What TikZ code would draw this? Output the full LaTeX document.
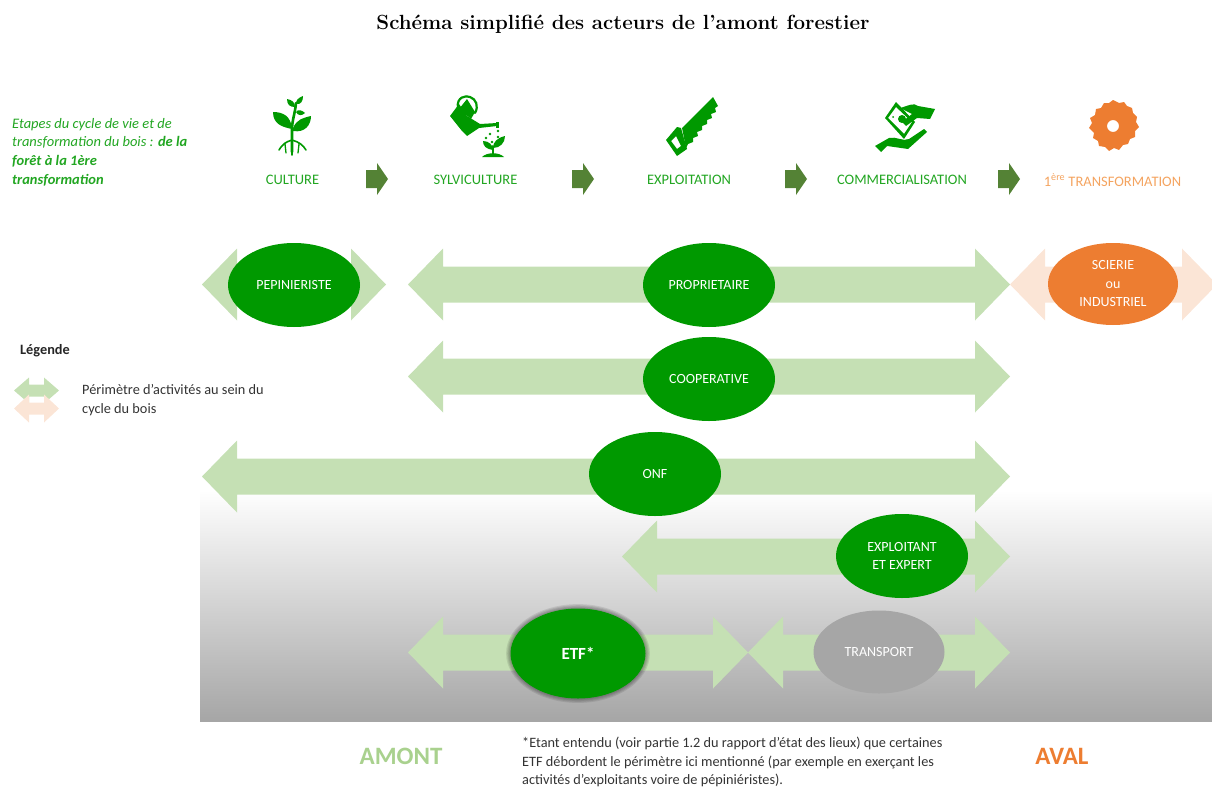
\documentclass[tikz,border=0pt]{standalone}
\usepackage{fontspec}
\setmainfont{Carlito}
\newfontfamily\titlefont{Latin Modern Roman}
\usetikzlibrary{calc}
\definecolor{gr}{HTML}{009900}
\definecolor{lgr}{HTML}{C5E0B4}
\definecolor{peach}{HTML}{FBE5D6}
\definecolor{org}{HTML}{ED7D31}
\definecolor{lorg}{HTML}{F4A460}
\definecolor{dgr}{HTML}{548235}
\definecolor{amont}{HTML}{A9D18E}
\definecolor{tgr}{HTML}{22A622}
\tikzset{
  actor/.style={ellipse,fill=gr,text=white,minimum width=132pt,minimum height=84pt,inner sep=0pt,align=center,font=\fontsize{14}{18.5}\selectfont},
  stage/.style={text=tgr,font=\fontsize{14.5}{17}\selectfont,inner sep=0pt,anchor=center},
  body/.style={text=black!80,font=\fontsize{14.3}{18.6}\selectfont,inner sep=0pt,anchor=north west,align=left},
  iconG/.style={fill=gr,draw=none},
  stem/.style={draw=gr,line cap=round,line join=round}
}
\usetikzlibrary{shapes.geometric}
% x1 x2 yc halfhead halfshaft headlen colour
\newcommand{\dbl}[7]{\fill[#7] (#1,#3) -- (#1+#6,#3-#4) -- (#1+#6,#3-#5) -- (#2-#6,#3-#5) -- (#2-#6,#3-#4) -- (#2,#3) -- (#2-#6,#3+#4) -- (#2-#6,#3+#5) -- (#1+#6,#3+#5) -- (#1+#6,#3+#4) -- cycle;}
\newcommand{\bigdbl}[4]{\dbl{#1}{#2}{#3}{36}{18}{35}{#4}}
\newcommand{\fwd}[1]{\fill[dgr] (#1,170) -- (#1+11,170) -- (#1+11,163) -- (#1+22,179) -- (#1+11,195) -- (#1+11,188) -- (#1,188) -- cycle;}
\begin{document}
\begin{tikzpicture}[x=1pt,y=-1pt]
\useasboundingbox (0,0) rectangle (1212,792);
\clip (0,0) rectangle (1212,792);
% background gradient
\shade[top color=white,bottom color=black!35,shading angle=0] (200,490) rectangle (1212,721);
% title
\node[inner sep=0pt,font=\titlefont\bfseries\fontsize{20.5}{24}\selectfont] (title) at (623,24) {Schéma simplifié des acteurs de l’amont forestier};
% intro
\node[inner sep=0pt,anchor=north west,align=left,text=tgr,font=\fontsize{14.5}{18.6}\selectfont\itshape] (intro) at (12,118)
 {Etapes du cycle de vie et de\\transformation du bois : \textbf{de la}\\\textbf{forêt à la 1ère}\\\textbf{transformation}};
% stages
\node[stage] (s1) at (292.5,180) {CULTURE};
\node[stage] (s2) at (475.5,180) {SYLVICULTURE};
\node[stage] (s3) at (689,180) {EXPLOITATION};
\node[stage] (s4) at (902,180) {COMMERCIALISATION};
\node[stage,text=lorg] (s5) at (1112.5,180) {1\textsuperscript{ère} TRANSFORMATION};
\fwd{366}\fwd{572}\fwd{785}\fwd{998}
% plant icon
\draw[stem,line width=2.6pt] (292,152) -- (292,130) .. controls (292,120) and (295,114) .. (296,103);
\draw[stem,line width=1.6pt] (292,140) .. controls (285,142) and (282,145) .. (279,150);
\draw[stem,line width=1.6pt] (292,140) .. controls (299,142) and (303,145) .. (306,150);
\draw[stem,line width=1.6pt] (292,142) -- (292,155);
\draw[stem,line width=1.3pt] (285,143) .. controls (285,147) and (286,150) .. (286,153);
\draw[stem,line width=1.3pt] (299,143) .. controls (299,147) and (298,150) .. (298,153);
\fill[iconG] (292,129) .. controls (282,127) and (273,124) .. (273,112) .. controls (283,112) and (291,116) .. (292,129) -- cycle;
\fill[iconG] (293,128) .. controls (297,119) and (303,118) .. (311,116) .. controls (311,125) and (305,133) .. (293,131) -- cycle;
\fill[iconG] (295,107) .. controls (290,107) and (287,105) .. (287,99) .. controls (292,100) and (295,102) .. (295,107) -- cycle;
\fill[iconG] (296,104) .. controls (296,100) and (298,98) .. (303,96) .. controls (303,101) and (301,105) .. (296,104) -- cycle;
\fill[iconG] (296,112) .. controls (298,109) and (302,110) .. (305,113) .. controls (302,116) and (298,116) .. (296,112) -- cycle;
% watering can icon
\fill[iconG] (450,116) -- (459,104) -- (467,116) -- (480,124) -- (497,123) -- (497,126) -- (479,128) -- (467,136) -- (462,131) -- cycle;
\fill[iconG] (459,109) -- (467,99) -- (475,112) -- (471,119) -- cycle;
\draw[stem,line width=2.2pt] (458,108) .. controls (456,97) and (466,95) .. (470,97) .. controls (476,99) and (479,106) .. (475,113);
\fill[iconG] (496,122) rectangle (499,128);
\foreach \a/\b in {486/138,490/134,492/142,498/131,498/137}{\fill[iconG] (\a,\b) circle (1.4);}
\draw[stem,line width=2pt] (493,155) -- (493,146);
\fill[iconG] (482,157) .. controls (487,152) and (499,152) .. (504,157) -- cycle;
\fill[iconG] (493,150) .. controls (486,149) and (483,146) .. (483,141) .. controls (489,141) and (493,145) .. (493,150) -- cycle;
\fill[iconG] (493,148) .. controls (493,142) and (497,138) .. (505,136) .. controls (505,143) and (500,148) .. (493,148) -- cycle;
% saw icon
\fill[iconG] (713,97) -- (718,106) -- (715,108) -- (716,112) -- (711,114) -- (712,118) -- (707,120) -- (707,124) -- (702,126) -- (702,130) -- (697,132) -- (698,136) -- (693,138) -- (693,142) -- (688,144) -- (686,148) -- (682,128) -- cycle;
\fill[iconG,even odd rule] (677,127) -- (666,140) -- (677,156) -- (687,149) -- (681,128) -- cycle
  (676,136) -- (671,141) -- (677,149) -- (681,146) -- cycle;
% money icon
\begin{scope}[even odd rule]
\fill[iconG] (885,118) -- (896,102) -- (915,122) -- (904,139) -- cycle
  (888,118) -- (896,107) -- (912,122) -- (904,134) -- cycle;
\fill[iconG] (893,117) circle (1);
\fill[iconG] (902,119) circle (4);
\end{scope}
\fill[iconG] (900,108) .. controls (908,106) and (914,102) .. (918,106) -- (935,109) -- (930,119) -- (917,118) -- (906,126) -- (902,122) -- (912,114) -- cycle;
\fill[iconG] (875,146) -- (889,138) .. controls (896,136) and (903,142) .. (909,139) -- (924,129) -- (927,132) -- (908,149) -- (887,146) -- (881,152) -- cycle;
% blade icon
\fill[org,even odd rule] plot[smooth cycle,tension=0] coordinates {
  (1113,100) (1119,103) (1124,102) (1127,106) (1132,108) (1133,113) (1137,117) (1136,122) (1139,127) (1135,131) (1135,137) (1130,139) (1128,144) (1123,145) (1119,150) (1114,148) (1109,151) (1105,147) (1099,146) (1098,141) (1093,138) (1094,133) (1089,128) (1092,123) (1090,118) (1095,115) (1096,109) (1101,108) (1104,103) (1109,103)}
  (1113,126) circle (6);
% legend
\node[inner sep=0pt,anchor=west,text=black!85,font=\bfseries\fontsize{14.3}{17}\selectfont] (legendtitle) at (20,351) {Légende};
\dbl{14}{59}{390.5}{13}{6}{15}{lgr}
\dbl{14}{59}{408.5}{14}{6}{15}{peach}
\node[body] (legendtext) at (82,384.5) {Périmètre d’activités au sein du\\cycle du bois};
% double arrows
\bigdbl{202}{386}{284.5}{lgr}
\bigdbl{408}{1010}{284.5}{lgr}
\bigdbl{1010}{1217}{284.5}{peach}
\bigdbl{408}{1010}{376.5}{lgr}
\bigdbl{202}{1010}{476.5}{lgr}
\bigdbl{622}{1010}{556.5}{lgr}
\bigdbl{408}{748}{652.5}{lgr}
\bigdbl{748}{1010}{652.5}{lgr}
% ETF shadow
\foreach \i in {1,2,3,4}{\fill[black,opacity=0.09] (578,653.5) ellipse ({67.5+\i*1.1} and {45+\i*1.1});}
% actors
\node[actor] (pep) at (294,285) {PEPINIERISTE};
\node[actor] (pro) at (709,285) {PROPRIETAIRE};
\node[actor,fill=org,minimum width=130pt,minimum height=82pt] (sci) at (1113,284) {SCIERIE\\ou\\INDUSTRIEL};
\node[actor] (coo) at (709,379) {COOPERATIVE};
\node[actor] (onf) at (655,474) {ONF};
\node[actor] (exp) at (902,556) {EXPLOITANT\\ET EXPERT};
\node[actor,minimum width=135pt,minimum height=90pt,font=\bfseries\fontsize{17}{20}\selectfont] (etf) at (578,653.5) {ETF*};
\node[actor,fill=black!35,minimum width=131pt,minimum height=83pt] (tra) at (879,652) {TRANSPORT};
% bottom
\node[inner sep=0pt,text=amont,font=\bfseries\fontsize{25}{28}\selectfont] (amontlabel) at (401,756) {AMONT};
\node[inner sep=0pt,text=org,font=\bfseries\fontsize{25}{28}\selectfont] (avallabel) at (1062,756) {AVAL};
\node[body] (note) at (522,737) {*Etant entendu (voir partie 1.2 du rapport d’état des lieux) que certaines\\ETF débordent le périmètre ici mentionné (par exemple en exerçant les\\activités d’exploitants voire de pépiniéristes).};
\end{tikzpicture}
\end{document}
